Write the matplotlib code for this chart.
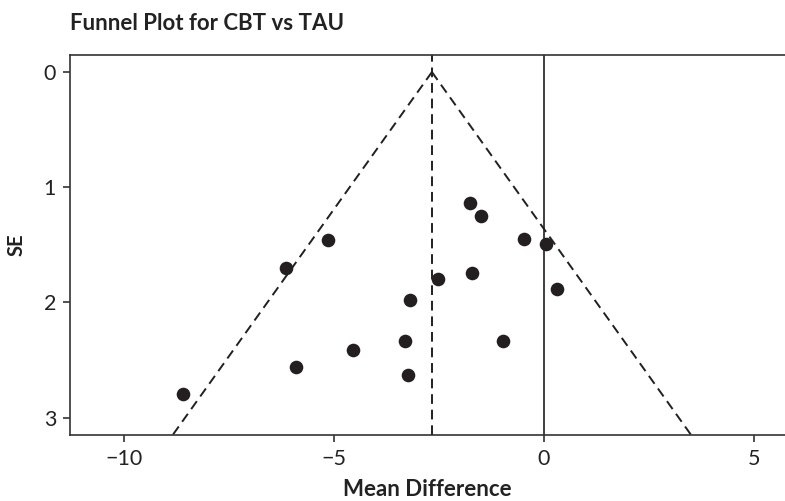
import matplotlib.pyplot as plt
import numpy as np

plt.rcParams['font.family'] = ['Lato', 'DejaVu Sans']

# study estimates
mean_diff = [-1.76, -1.51, -5.15, -0.48, 0.04, -6.14, -1.72, -2.52, 0.30,
             -3.19, -3.31, -0.97, -4.56, -5.91, -3.23, -8.60]
se = [1.14, 1.25, 1.46, 1.45, 1.49, 1.70, 1.74, 1.80, 1.88,
      1.98, 2.33, 2.33, 2.41, 2.56, 2.63, 2.79]
pooled = -2.67
x_ticks = [-10, -5, 0, 5]
y_ticks = [0, 1, 2, 3]

ink = '#231f20'
dash = (0, (5, 3))

fig = plt.figure(figsize=(7.85, 5.01), dpi=100)
ax = fig.add_axes([70/785, 66/501, 715/785, 380/501])

se_max = 3.15
fy = np.array([0, se_max])
ax.plot(pooled - 1.96*fy, fy, ls=dash, color=ink, lw=1.4)
ax.plot(pooled + 1.96*fy, fy, ls=dash, color=ink, lw=1.4)
ax.axvline(pooled, ls=dash, color=ink, lw=1.4)
ax.axvline(0, color=ink, lw=1.2)

ax.plot(mean_diff, se, 'o', color=ink, ms=9.8, mec='none')

ax.set_xlim(-11.29, 5.74)
ax.set_ylim(3.15, -0.148)
ax.set_xticks(x_ticks)
ax.set_xticklabels([str(t).replace('-', '\u2212') for t in x_ticks])
ax.set_yticks(y_ticks)

for s in ['left', 'bottom', 'top']:
    ax.spines[s].set_color('#333333')
    ax.spines[s].set_linewidth(1.2)
ax.spines['right'].set_visible(False)
ax.tick_params(colors='#333333', labelcolor='#222222', labelsize=15.5,
               length=5, width=1.2, pad=5)

ax.set_xlabel('Mean Difference', fontsize=16, fontweight='bold',
              color='#222222', va='center')
ax.xaxis.set_label_coords(0.5, -(490 - 435) / 380)
ax.set_ylabel('SE', fontsize=14.5, fontweight='bold', color='#222222',
              va='center')
ax.yaxis.set_label_coords(-(70 - 17) / 715, 0.5)
fig.text(70/785, 1 - 24/501, 'Funnel Plot for CBT vs TAU', fontsize=16,
         fontweight='bold', color='#222222', va='center', ha='left')

fig.savefig('out.png', dpi=100)
